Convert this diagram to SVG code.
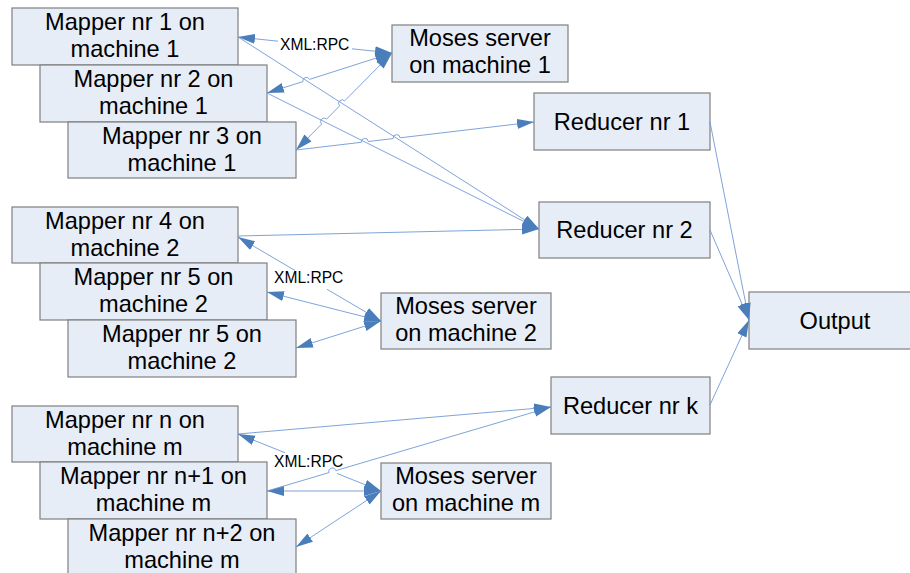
<svg xmlns="http://www.w3.org/2000/svg" width="910" height="573" viewBox="0 0 910 573">
<defs>
<style>
.box{fill:#e7edf7;stroke:#7f7f7f;stroke-width:1.2}
.t{font-family:"Liberation Sans",Arial,sans-serif;font-size:23.6px;fill:#000;text-anchor:middle}
.lbl{font-family:"Liberation Sans",Arial,sans-serif;font-size:15.6px;fill:#000}
.c{fill:none;stroke:#7199d6;stroke-width:0.9}
.e{marker-end:url(#a)}
.b{marker-start:url(#a);marker-end:url(#a)}
</style>
<marker id="a" viewBox="0 0 17 11" refX="17" refY="5.5" markerWidth="17" markerHeight="11" markerUnits="userSpaceOnUse" orient="auto-start-reverse">
<path d="M0,0.5 L17,5.5 L0,10.5 z" fill="#4a7ebb"/>
</marker>
</defs>
<rect width="910" height="573" fill="#fff"/>

<g id="mapper1"><rect class="box" x="12" y="8" width="226" height="57"/><text class="t"><tspan x="125" y="30">Mapper nr 1 on</tspan><tspan x="125" y="57">machine 1</tspan></text></g>
<g id="mapper2"><rect class="box" x="40" y="65" width="227" height="57"/><text class="t"><tspan x="153.5" y="87">Mapper nr 2 on</tspan><tspan x="153.5" y="114">machine 1</tspan></text></g>
<g id="mapper3"><rect class="box" x="68" y="122" width="228" height="56"/><text class="t"><tspan x="182" y="144">Mapper nr 3 on</tspan><tspan x="182" y="171">machine 1</tspan></text></g>

<g id="mapper4"><rect class="box" x="12" y="207" width="226" height="56"/><text class="t"><tspan x="125" y="229">Mapper nr 4 on</tspan><tspan x="125" y="256">machine 2</tspan></text></g>
<g id="mapper5a"><rect class="box" x="40" y="263" width="227" height="57"/><text class="t"><tspan x="153.5" y="285">Mapper nr 5 on</tspan><tspan x="153.5" y="312">machine 2</tspan></text></g>
<g id="mapper5b"><rect class="box" x="68" y="320" width="228" height="57"/><text class="t"><tspan x="182" y="342">Mapper nr 5 on</tspan><tspan x="182" y="369">machine 2</tspan></text></g>

<g id="mappern"><rect class="box" x="12" y="406" width="226" height="56"/><text class="t"><tspan x="125" y="428">Mapper nr n on</tspan><tspan x="125" y="455">machine m</tspan></text></g>
<g id="mappern1"><rect class="box" x="40" y="462" width="227" height="57"/><text class="t"><tspan x="153.5" y="484">Mapper nr n+1 on</tspan><tspan x="153.5" y="511">machine m</tspan></text></g>
<g id="mappern2"><rect class="box" x="68" y="519" width="228" height="57"/><text class="t"><tspan x="182" y="541">Mapper nr n+2 on</tspan><tspan x="182" y="568">machine m</tspan></text></g>

<g id="moses1"><rect class="box" x="392" y="25" width="176" height="57"/><text class="t"><tspan x="480" y="46">Moses server</tspan><tspan x="480" y="73">on machine 1</tspan></text></g>
<g id="moses2"><rect class="box" x="381" y="293" width="170" height="56"/><text class="t"><tspan x="466" y="314">Moses server</tspan><tspan x="466" y="341">on machine 2</tspan></text></g>
<g id="mosesm"><rect class="box" x="381" y="463" width="170" height="56"/><text class="t"><tspan x="466" y="484">Moses server</tspan><tspan x="466" y="511">on machine m</tspan></text></g>

<g id="reducer1"><rect class="box" x="534" y="93" width="176" height="57"/><text class="t" x="622" y="130">Reducer nr 1</text></g>
<g id="reducer2"><rect class="box" x="539" y="202" width="171" height="56"/><text class="t" x="624.5" y="238">Reducer nr 2</text></g>
<g id="reducerk"><rect class="box" x="551" y="377" width="159" height="57"/><text class="t" x="630.5" y="414">Reducer nr k</text></g>
<g id="output"><rect class="box" x="749" y="292" width="163" height="57"/><text class="t" x="835" y="329">Output</text></g>

<g id="connectors">
<path class="c b" d="M238,37 L278,41.2 M352,48.8 L392,53"/>
<path class="c b" d="M267,93 L302.9,81.6 A3.5,3.5 0 0 1 309.5,79.4 L392,53"/>
<path class="c b" d="M296,150 L321.6,124.1 A3.5,3.5 0 0 1 326.6,119.1 L339.6,105.9 A3.5,3.5 0 0 1 344.6,100.9 L392,53"/>
<path class="c e" d="M238,37 L539,229"/>
<path class="c e" d="M267,93 L539,229"/>
<path class="c e" d="M296,150 L361.3,142.3 A3.5,3.5 0 0 1 368.3,141.5 L393.1,138.6 A3.5,3.5 0 0 1 400.1,137.8 L534,122"/>
<path class="c e" d="M238,236 L539,229"/>
<path class="c b" d="M238,237 L295,270.5 M327,289.3 L381,321"/>
<path class="c b" d="M267,292 L381,321"/>
<path class="c b" d="M296,348 L381,321"/>
<path class="c e" d="M238,434 L551,407"/>
<path class="c b" d="M238,434 L285,452.7 M337,473.5 L381,491"/>
<path class="c b" d="M267,491 L381,491"/>
<path class="c b" d="M296,547 L381,491"/>
<path class="c e" d="M267,491 L329,472.6 A3.5,3.5 0 0 1 335.8,470.6 L551,407"/>
<path class="c e" d="M710,122 L749,320"/>
<path class="c e" d="M710,230 L749,320"/>
<path class="c e" d="M710,405 L749,320"/>
<text class="lbl" x="280" y="50">XML:RPC</text>
<text class="lbl" x="274" y="283">XML:RPC</text>
<text class="lbl" x="274" y="467">XML:RPC</text>
</g>
</svg>
